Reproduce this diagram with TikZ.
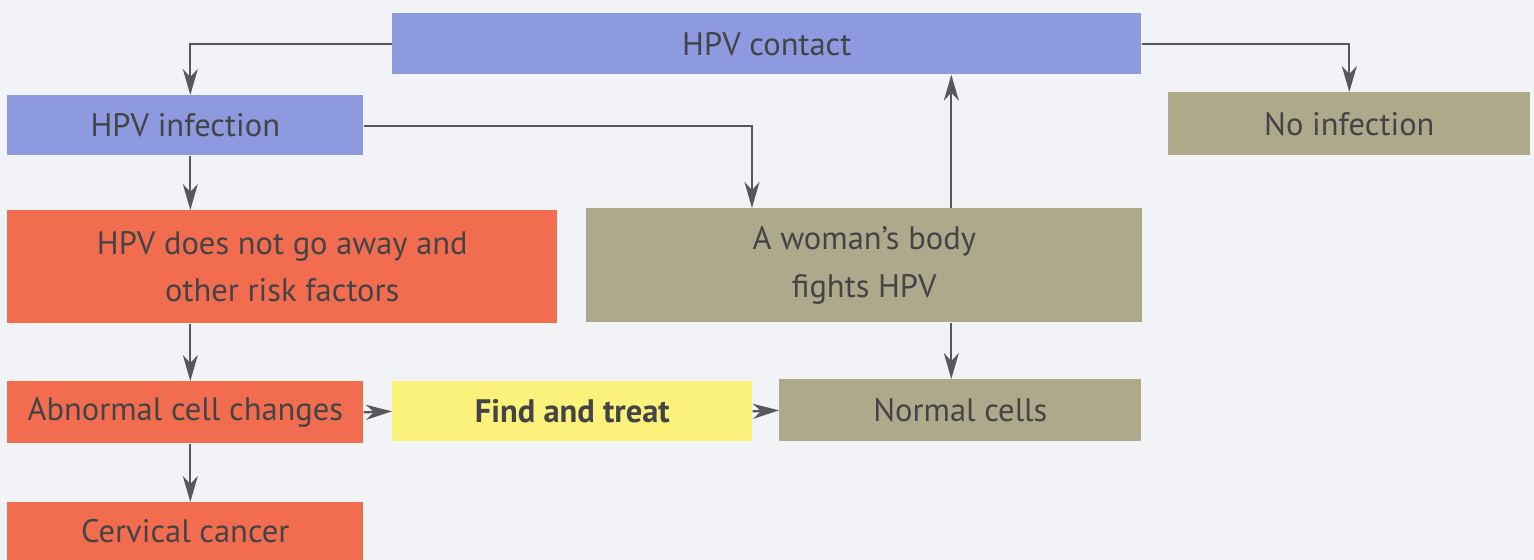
\documentclass[tikz,border=0pt]{standalone}
\usepackage{fontspec}
\setmainfont{PT Sans}
\usetikzlibrary{arrows.meta,positioning,calc}
\definecolor{pagebg}{HTML}{F1F3F7}
\definecolor{hpvblue}{HTML}{8E9AE0}
\definecolor{hpvred}{HTML}{F26C4F}
\definecolor{hpvolive}{HTML}{AFA98C}
\definecolor{hpvyellow}{HTML}{FAF27A}
\definecolor{inkgrey}{HTML}{444447}
\definecolor{linegrey}{HTML}{58585C}

\begin{document}
\begin{tikzpicture}[
  x=0.02cm, y=-0.02cm,
  font=\fontsize{18.5}{27}\selectfont,
  box/.style={anchor=north west, inner sep=0pt, align=center, text=inkgrey},
  bbox/.style={box, fill=hpvblue},
  rbox/.style={box, fill=hpvred},
  obox/.style={box, fill=hpvolive},
  ybox/.style={box, fill=hpvyellow, font=\fontsize{18.5}{27}\selectfont\bfseries},
  arr/.style={-{Stealth[length=5.2mm, width=3mm, inset=1.6mm]}, line width=1.3pt, draw=linegrey}
]
\fill[pagebg] (0,0) rectangle (1534,560);
\useasboundingbox (0,0) rectangle (1534,560);
\node[bbox, minimum width=14.98cm, minimum height=1.22cm] (contact) at (392,13) {HPV contact};
\node[bbox, minimum width=7.12cm, minimum height=1.2cm] (infection) at (7,95) {HPV infection};
\node[obox, minimum width=7.24cm, minimum height=1.26cm] (noinf) at (1168,92) {No infection};
\node[rbox, minimum width=11cm, minimum height=2.26cm] (persist) at (7,210) {HPV does not go away and\\ other risk factors};
\node[obox, minimum width=11.12cm, minimum height=2.28cm] (fights) at (586,208) {A woman’s body\\ fights HPV};
\node[rbox, minimum width=7.12cm, minimum height=1.24cm] (abnormal) at (7,381) {Abnormal cell changes};
\node[ybox, minimum width=7.2cm, minimum height=1.2cm] (treat) at (392,381) {Find and treat};
\node[obox, minimum width=7.24cm, minimum height=1.24cm] (normal) at (779,379) {Normal cells};
\node[rbox, minimum width=7.12cm, minimum height=1.16cm] (cancer) at (7,502) {Cervical cancer};
\coordinate (leftcol) at ([xshift=0.1cm]infection.south);
\coordinate (midcol) at ([xshift=-0.18cm]normal.north);
% contact splits
\draw[arr] (contact.west) -| (leftcol |- infection.north);
\draw[arr] (contact.east) -| (noinf.north);
\draw[arr] ([yshift=-0.02cm]infection.east) -| ([xshift=3.32cm]fights.north west);
\draw[arr] (fights.north -| midcol) -- (contact.south -| midcol);
\draw[arr] (fights.south -| midcol) -- (midcol);
% left column
\draw[arr] (leftcol) -- (leftcol |- persist.north);
\draw[arr] (leftcol |- persist.south) -- (leftcol |- abnormal.north);
\draw[arr] (leftcol |- abnormal.south) -- (leftcol |- cancer.north);
% bottom row
\draw[arr] (abnormal.east) -- (treat.west);
\draw[arr] (treat.east) -- (normal.west);
\end{tikzpicture}
\end{document}
